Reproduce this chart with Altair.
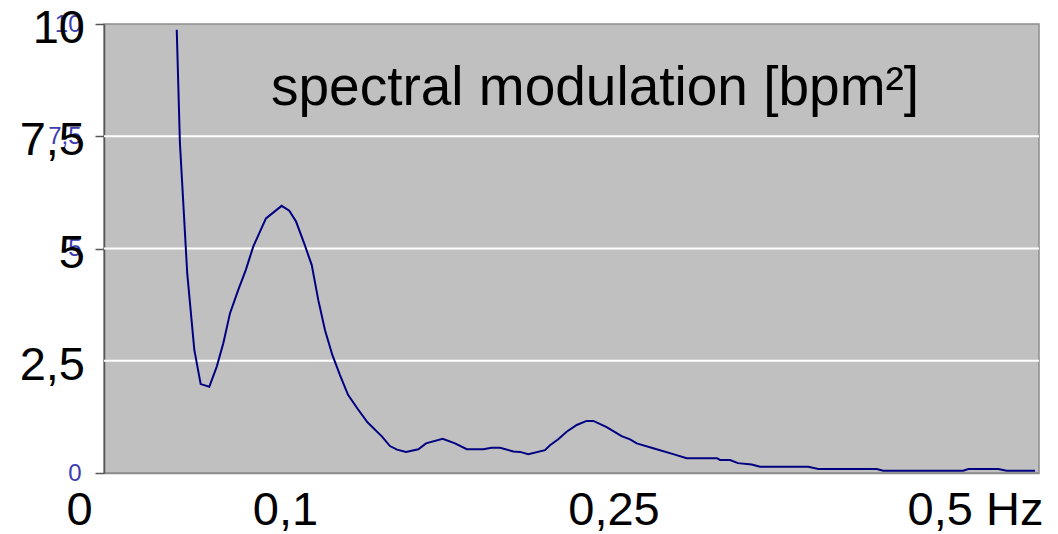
import altair as alt
import pandas as pd

# ---- data ----
freq = [0.0389, 0.0406, 0.0445, 0.0483, 0.0517, 0.0563, 0.0603, 0.0638, 0.0674, 0.0718,
        0.0758, 0.0798, 0.0866, 0.0950, 0.0991, 0.1027, 0.1070, 0.1111, 0.1146, 0.1182,
        0.1221, 0.1262, 0.1305, 0.1358, 0.1409, 0.1487, 0.1529, 0.1567, 0.1615, 0.1681,
        0.1722, 0.1811, 0.1877, 0.1940, 0.2028, 0.2073, 0.2118, 0.2189, 0.2225, 0.2269,
        0.2358, 0.2385, 0.2429, 0.2474, 0.2528, 0.2581, 0.2617, 0.2688, 0.2768, 0.2813,
        0.2849, 0.2937, 0.3044, 0.3116, 0.3187, 0.3278, 0.3294, 0.3348, 0.3390, 0.3464,
        0.3508, 0.3766, 0.3820, 0.4132, 0.4167, 0.4595, 0.4622, 0.4782, 0.4827, 0.4979]
power = [9.87, 7.35, 4.45, 2.74, 1.98, 1.92, 2.37, 2.89, 3.56, 4.08,
         4.52, 5.04, 5.67, 5.95, 5.84, 5.60, 5.12, 4.63, 3.85, 3.18,
         2.63, 2.18, 1.74, 1.42, 1.13, 0.81, 0.60, 0.52, 0.47, 0.53,
         0.66, 0.76, 0.66, 0.53, 0.53, 0.56, 0.56, 0.48, 0.47, 0.42,
         0.51, 0.62, 0.75, 0.92, 1.07, 1.16, 1.16, 1.02, 0.82, 0.75,
         0.66, 0.55, 0.42, 0.33, 0.33, 0.33, 0.29, 0.29, 0.22, 0.19,
         0.14, 0.14, 0.09, 0.09, 0.05, 0.05, 0.09, 0.09, 0.05, 0.05]

grid_values = [2.5, 5, 7.5]
y_tick_values = [0, 5, 7.5, 10]
x_tick_values = [0, 0.1, 0.25, 0.5]
big_y_values = [10, 7.5, 5, 2.5]
big_y_labels = ["10", "7,5", "5", "2,5"]
title_text = "spectral modulation [bpm²]"

FONT = "Liberation Sans"

df_line = pd.DataFrame({"f": freq, "p": power})
df_grid = pd.DataFrame({"g": grid_values})
df_big = pd.DataFrame({"v": big_y_values, "t": big_y_labels})
df_title = pd.DataFrame({"t": [title_text]})

x_scale = alt.Scale(domain=[0, 0.5], nice=False, zero=False)
y_scale = alt.Scale(domain=[0, 10], nice=False)

x_axis = alt.Axis(
    values=x_tick_values,
    labelExpr="datum.value == 0.5 ? '0,5 Hz' : replace(format(datum.value, '~g'), '.', ',')",
    ticks=False, grid=False, title=None,
    domainColor="#8c8c8c", domainWidth=1.5,
    labelFont=FONT, labelFontSize=47, labelColor="black",
    labelBaseline="alphabetic", labelPadding=51,
    labelFlush=False, labelOverlap=False, labelBound=False,
    labelOffset={"condition": [
        {"test": "datum.value == 0", "value": -25},
        {"test": "datum.value == 0.1", "value": -6},
        {"test": "datum.value == 0.5", "value": -64}],
        "value": 42},
)
y_axis = alt.Axis(
    values=y_tick_values,
    labelExpr="replace(format(datum.value, '~g'), '.', ',')",
    grid=False, title=None,
    domainColor="#555555", domainWidth=1.5,
    tickColor="#555555", tickWidth=1.5, tickSize=9,
    labelFont=FONT, labelFontSize=24, labelColor="#3c3cb4", labelPadding=14,
    labelOverlap=False, labelBound=False,
)

grid = alt.Chart(df_grid).mark_rule(color="white", strokeWidth=2).encode(
    y=alt.Y("g:Q", scale=y_scale, axis=y_axis)
)

line = alt.Chart(df_line).mark_line(color="#000080", strokeWidth=2).encode(
    x=alt.X("f:Q", scale=x_scale, axis=x_axis),
    y=alt.Y("p:Q", scale=y_scale, axis=y_axis),
)

big_labels = alt.Chart(df_big).mark_text(
    font=FONT, fontSize=47, color="black", align="right", baseline="alphabetic", dy=19
).encode(
    y=alt.Y("v:Q", scale=y_scale, axis=y_axis),
    x=alt.value(-19),
    text="t:N",
)

title = alt.Chart(df_title).mark_text(
    font=FONT, fontSize=55, color="black", align="center", baseline="alphabetic"
).encode(
    x=alt.value(491), y=alt.value(81), text="t:N"
)

chart = alt.layer(grid, line, big_labels, title).properties(
    width=935, height=449,
    autosize=alt.AutoSizeParams(type="none"),
    padding={"left": 104, "top": 24, "right": 19, "bottom": 61},
    background="white",
).configure_view(
    fill="#C0C0C0", stroke="#8c8c8c", strokeWidth=1.5
)

chart.save("out.html", embed_options={"renderer": "svg", "actions": False})
